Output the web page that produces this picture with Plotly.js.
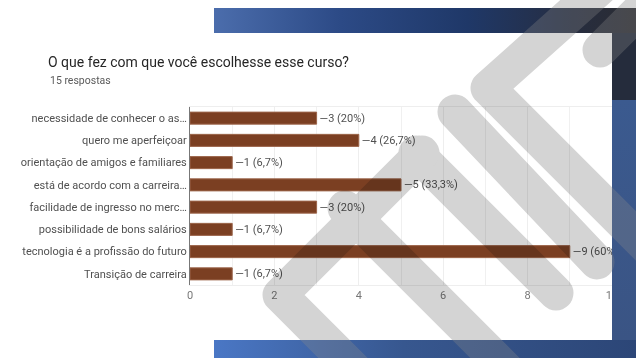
<!DOCTYPE html>
<html>
<head>
<meta charset="utf-8">
<script src="https://cdn.plot.ly/plotly-3.0.1.min.js"></script>
<style>
  html, body { margin: 0; padding: 0; background: #ffffff; }
  #wrap { position: relative; width: 636px; height: 358px; overflow: hidden; }
  #chart { position: absolute; left: 0; top: 0; width: 636px; height: 358px; }
  .ov { position: absolute; left: 0; top: 0; width: 636px; height: 358px; pointer-events: none; }
  #wm { mix-blend-mode: multiply; }
</style>
</head>
<body>
<div id="wrap">
  <div id="chart"></div>
  <svg id="wm" class="ov" width="636" height="358" viewBox="0 0 636 358"></svg>
  <svg id="deco" class="ov" width="636" height="358" viewBox="0 0 636 358"></svg>
</div>
<script>
// ---- data ----
const titleText = "O que fez com que você escolhesse esse curso?";
const subtitleText = "15 respostas";
const categories = [
  "necessidade de conhecer o as…",
  "quero me aperfeiçoar",
  "orientação de amigos e familiares",
  "está de acordo com a carreira…",
  "facilidade de ingresso no merc…",
  "possibilidade de bons salários",
  "tecnologia é a profissão do futuro",
  "Transição de carreira"
];
const counts = [3, 4, 1, 5, 3, 1, 9, 1];
const percents = ["20%", "26,7%", "6,7%", "33,3%", "20%", "6,7%", "60%", "6,7%"];
const xTickVals = [0, 2, 4, 6, 8, 10];

const labels = counts.map((c, i) => "\u2014" + c + " (" + percents[i] + ")");

const trace = {
  type: "bar",
  orientation: "h",
  x: counts,
  y: categories,
  text: labels,
  textposition: "outside",
  cliponaxis: false,
  constraintext: "none",
  textfont: { family: "Roboto, Arial, sans-serif", size: 11, color: "#505050" },
  marker: { color: "#7b3f22", line: { color: "#9c654a", width: 1 } },
  hoverinfo: "none"
};

const layout = {
  width: 636,
  height: 358,
  margin: { l: 190, r: 24, t: 107, b: 73, pad: 0 },
  paper_bgcolor: "#ffffff",
  plot_bgcolor: "#ffffff",
  showlegend: false,
  bargap: 0.46,
  font: { family: "Roboto, Arial, sans-serif", size: 11, color: "#444" },
  title: {
    text: titleText,
    x: 48 / 636, xanchor: "left", xref: "container",
    y: 1 - 62 / 358, yanchor: "middle", yref: "container",
    font: { family: "Roboto, Arial, sans-serif", size: 14, color: "#262626" }
  },
  annotations: [{
    text: subtitleText,
    xref: "paper", yref: "paper",
    x: (48 - 190) / 422, y: (285 - 80) / 178,
    xanchor: "left", yanchor: "middle", showarrow: false,
    font: { family: "Roboto, Arial, sans-serif", size: 10.5, color: "#5a5a5a" }
  }],
  xaxis: {
    range: [0, 10],
    tickvals: xTickVals,
    ticktext: xTickVals.map(String),
    showgrid: true, gridcolor: "#eeeeee", gridwidth: 1,
    minor: { dtick: 1, showgrid: true, gridcolor: "#f0f0f0", gridwidth: 1 },
    zeroline: false,
    showline: true, linecolor: "#eeeeee", mirror: true,
    ticks: "", ticklen: 0,
    tickfont: { family: "Roboto, Arial, sans-serif", size: 11, color: "#777" },
    fixedrange: true
  },
  yaxis: {
    type: "category",
    autorange: "reversed",
    showgrid: false,
    zeroline: false,
    showline: true, linecolor: "#777", linewidth: 1,
    ticks: "", ticklen: 0,
    tickfont: { family: "Roboto, Arial, sans-serif", size: 11, color: "#505050" },
    fixedrange: true
  }
};

Plotly.newPlot("chart", [trace], layout, { displayModeBar: false, staticPlot: true });

// ---- decorative background of the photographed slide ----
const NS = "http://www.w3.org/2000/svg";
function el(parent, tag, attrs) {
  const e = document.createElementNS(NS, tag);
  for (const k in attrs) e.setAttribute(k, attrs[k]);
  parent.appendChild(e);
  return e;
}
const wmStrokes = [
  [[600, -12], [488, 88], [665, 265]],
  [[455, 112], [597, 262]],
  [[416, 153], [556, 293]],
  [[422, 153], [280, 295], [370, 385]],
  [[345, 208], [515, 378]],
  [[600, 50], [690, -40]]
];
function drawStrokes(svg, color, opacity, clip) {
  const g = el(svg, "g", { fill: "none", stroke: color, "stroke-width": 35,
    "stroke-linecap": "round", "stroke-linejoin": "round", opacity: opacity });
  if (clip) g.setAttribute("clip-path", clip);
  wmStrokes.forEach(pts => {
    el(g, "polyline", { points: pts.map(p => p.join(",")).join(" ") });
  });
}
const wm = document.getElementById("wm");
drawStrokes(wm, "#d4d4d4", 1, null);

const deco = document.getElementById("deco");
const defs = el(deco, "defs", {});
const gTop = el(defs, "linearGradient", { id: "gTop", x1: 0, y1: 0, x2: 1, y2: 0 });
[[0, "#4b6dac"], [0.3, "#2c4a86"], [0.6, "#1f3868"], [0.85, "#262d40"], [1, "#2b2c31"]]
  .forEach(s => el(gTop, "stop", { offset: s[0], "stop-color": s[1] }));
const gBot = el(defs, "linearGradient", { id: "gBot", x1: 0, y1: 0, x2: 1, y2: 0 });
[[0, "#4a77c5"], [0.45, "#37578f"], [1, "#2c4677"]]
  .forEach(s => el(gBot, "stop", { offset: s[0], "stop-color": s[1] }));
const gRight = el(defs, "linearGradient", { id: "gRight", x1: 0, y1: 0, x2: 0, y2: 1 });
[[0, "#3b5a8f"], [1, "#3a5484"]]
  .forEach(s => el(gRight, "stop", { offset: s[0], "stop-color": s[1] }));
const cp = el(defs, "clipPath", { id: "bandsClip" });
el(cp, "rect", { x: 214, y: 8, width: 422, height: 25 });
el(cp, "rect", { x: 612, y: 33, width: 24, height: 307 });
el(cp, "rect", { x: 214, y: 340, width: 422, height: 18 });

el(deco, "rect", { x: 214, y: 8, width: 422, height: 25, fill: "url(#gTop)" });
el(deco, "rect", { x: 612, y: 100, width: 24, height: 240, fill: "url(#gRight)" });
el(deco, "rect", { x: 612, y: 33, width: 24, height: 67, fill: "#252c3c" });
el(deco, "rect", { x: 214, y: 340, width: 422, height: 18, fill: "url(#gBot)" });
drawStrokes(deco, "#8c8c8c", 0.3, "url(#bandsClip)");
</script>
</body>
</html>
